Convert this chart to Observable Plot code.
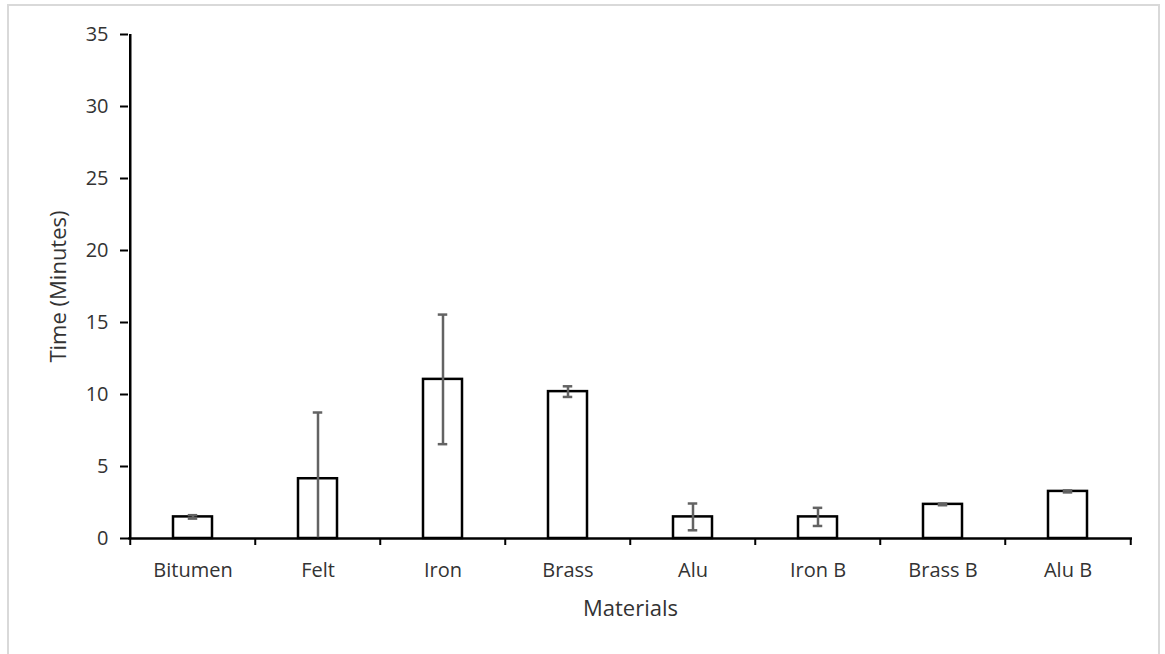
<!DOCTYPE html>
<html>
<head>
<meta charset="utf-8">
<script src="https://cdn.jsdelivr.net/npm/d3@7"></script>
<script src="https://cdn.jsdelivr.net/npm/@observablehq/plot@0.6"></script>
<style>
  html, body { margin: 0; padding: 0; background: #fff; overflow: hidden; }
  #frame { position: absolute; left: 7px; top: 4px; width: 1153px; height: 680px; border: 2px solid #d9d9d9; box-sizing: border-box; }
  #chart { position: absolute; left: 0; top: 0; }
  svg { font-family: "Open Sans", sans-serif; }
</style>
</head>
<body>
<div id="frame"></div>
<div id="chart"></div>
<script>
const materials = ["Bitumen", "Felt", "Iron", "Brass", "Alu", "Iron B", "Brass B", "Alu B"];
const meanTime = [1.5, 4.15, 11.05, 10.2, 1.5, 1.5, 2.37, 3.27];
const errTime = [0.12, 4.6, 4.5, 0.37, 0.93, 0.63, 0.06, 0.07];
const yTicks = [0, 5, 10, 15, 20, 25, 30, 35];

const data = materials.map((m, i) => ({
  material: m,
  value: meanTime[i],
  lo: Math.max(0, meanTime[i] - errTime[i]),
  hi: meanTime[i] + errTime[i],
  loCap: meanTime[i] - errTime[i] > 0
}));

const W = 1165, H = 654;
const mL = 128, mR = 33, mT = 34, mB = 116;
const step = (W - mL - mR) / materials.length;
const textColor = "#333333";
const errColor = "#636363";

const chart = Plot.plot({
  width: W,
  height: H,
  marginLeft: mL,
  marginRight: mR,
  marginTop: mT,
  marginBottom: mB,
  style: { fontFamily: "'Open Sans', sans-serif", background: "transparent" },
  x: { domain: materials, paddingInner: 0.685, paddingOuter: 0.3425, label: null },
  y: { domain: [0, 35], label: null },
  marks: [
    Plot.barY(data, { x: "material", y: "value", fill: "white", stroke: "black", strokeWidth: 2.5 }),
    Plot.ruleX(data, { x: "material", y1: "lo", y2: "hi", stroke: errColor, strokeWidth: 2.5 }),
    Plot.tickY(data, { x: "material", y: "hi", stroke: errColor, strokeWidth: 2.5, insetLeft: 14.75, insetRight: 14.75 }),
    Plot.tickY(data.filter(d => d.loCap), { x: "material", y: "lo", stroke: errColor, strokeWidth: 2.5, insetLeft: 14.75, insetRight: 14.75 }),
    // x axis line
    Plot.ruleY([0], { stroke: "black", strokeWidth: 2.5 }),
    // y axis line (left edge of first band)
    Plot.ruleX(materials.slice(0, 1), { x: d => d, y1: 0, y2: 35, dx: -step / 2, stroke: "black", strokeWidth: 2.5 }),
    // x ticks at category boundaries
    Plot.ruleX(materials, { x: d => d, y1: 0, y2: 0, insetBottom: -7, dx: -step / 2, stroke: "black", strokeWidth: 2 }),
    Plot.ruleX(materials.slice(-1), { x: d => d, y1: 0, y2: 0, insetBottom: -7, dx: step / 2, stroke: "black", strokeWidth: 2 }),
    Plot.axisY({ ticks: yTicks, tickSize: 8, tickPadding: 12, fontSize: 20, stroke: "black", strokeWidth: 2, color: textColor, label: null }),
    Plot.axisX({ tickSize: 0, tickPadding: 24, fontSize: 20, color: textColor, label: null }),
    Plot.text(["Materials"], { frameAnchor: "bottom", lineAnchor: "middle", textAnchor: "middle", dy: 70, fontSize: 22, fill: textColor }),
    Plot.text(["Time (Minutes)"], { frameAnchor: "left", lineAnchor: "middle", textAnchor: "middle", rotate: -90, dx: -70, fontSize: 22, fill: textColor })
  ]
});
document.getElementById("chart").appendChild(chart);
</script>
</body>
</html>
